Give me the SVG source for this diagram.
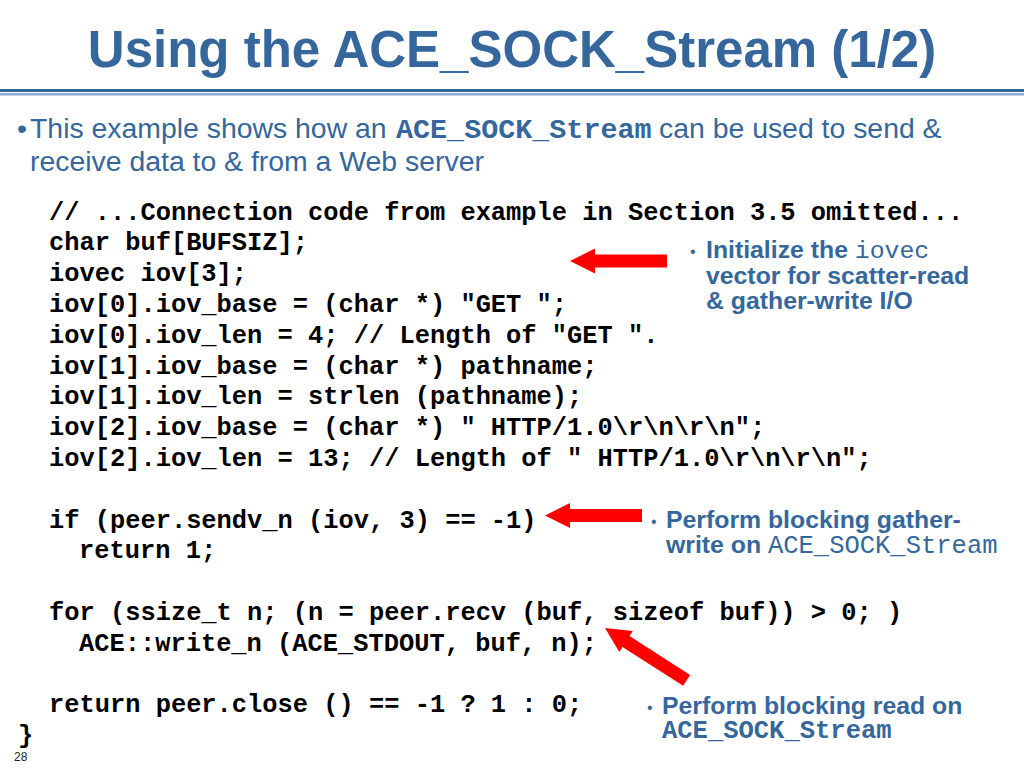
<svg xmlns="http://www.w3.org/2000/svg" width="1024" height="768" viewBox="0 0 1024 768">
<style>
.title{font-family:"Liberation Sans",Arial,sans-serif;font-weight:bold;font-size:51px;fill:#35679C}
.body{font-family:"Liberation Sans",Arial,sans-serif;font-size:28.4px;fill:#35679C}
.bmono{font-family:"Liberation Mono","Courier New",monospace;font-weight:bold}
.mono{font-family:"Liberation Mono","Courier New",monospace;font-weight:normal}
.code{font-family:"Liberation Mono","Courier New",monospace;font-weight:bold;font-size:25.4px;fill:#000}
.note{font-family:"Liberation Sans",Arial,sans-serif;font-weight:bold;font-size:24.8px;fill:#35679C}
.dot{font-family:"Liberation Sans",Arial,sans-serif;font-size:16px;fill:#35679C}
.arrow{fill:#FF0000}
.pg{font-family:"Liberation Sans",Arial,sans-serif;font-size:12px;fill:#222}
</style>
<defs>
<polygon id="arr" points="0,0 25,-12.5 25,-6.5 97,-6.5 97,6.5 25,6.5 25,12.5"/>
</defs>
<rect width="1024" height="768" fill="#fff"/>
<g id="title">
<text class="title" x="512" y="67" text-anchor="middle">Using the ACE_SOCK_Stream (1/2)</text>
<rect x="0" y="89" width="1024" height="3" fill="#36679B"/>
<rect x="0" y="93" width="1024" height="2.5" fill="#8DA9CF"/>
</g>
<g id="intro">
<text class="body" x="17" y="138">•<tspan x="30">This example shows how an</tspan><tspan class="bmono" x="396">ACE_SOCK_Stream</tspan><tspan x="659">can be used to send &amp;</tspan></text>
<text class="body" x="30" y="171">receive data to &amp; from a Web server</text>
</g>
<g id="code" class="code">
<text x="49" y="219.5">// ...Connection code from example in Section 3.5 omitted...</text>
<text x="49" y="250.3">char buf[BUFSIZ];</text>
<text x="49" y="281.1">iovec iov[3];</text>
<text x="49" y="311.9">iov[0].iov_base = (char *) "GET ";</text>
<text x="49" y="342.7">iov[0].iov_len = 4; // Length of "GET ".</text>
<text x="49" y="373.5">iov[1].iov_base = (char *) pathname;</text>
<text x="49" y="404.3">iov[1].iov_len = strlen (pathname);</text>
<text x="49" y="435.1">iov[2].iov_base = (char *) " HTTP/1.0\r\n\r\n";</text>
<text x="49" y="465.9">iov[2].iov_len = 13; // Length of " HTTP/1.0\r\n\r\n";</text>
<text x="49" y="527.5">if (peer.sendv_n (iov, 3) == -1)</text>
<text x="79" y="558.3">return 1;</text>
<text x="49" y="619.9">for (ssize_t n; (n = peer.recv (buf, sizeof buf)) &gt; 0; )</text>
<text x="79" y="650.7">ACE::write_n (ACE_STDOUT, buf, n);</text>
<text x="49" y="712.3">return peer.close () == -1 ? 1 : 0;</text>
<text x="18" y="743">}</text>
</g>
<g id="note-iovec">
<text class="dot" x="690" y="257">•</text>
<text class="note" x="706" y="258">Initialize the <tspan class="mono">iovec</tspan></text>
<text class="note" x="706" y="284">vector for scatter-read</text>
<text class="note" x="706" y="309">&amp; gather-write I/O</text>
</g>
<g id="note-sendv">
<text class="dot" x="651" y="527">•</text>
<text class="note" x="666" y="528">Perform blocking gather-</text>
<text class="note" x="666" y="553">write on <tspan class="mono" font-size="25.5">ACE_SOCK_Stream</tspan></text>
</g>
<g id="note-recv">
<text class="dot" x="647" y="713">•</text>
<text class="note" x="662" y="714">Perform blocking read on</text>
<text class="note" x="662" y="738"><tspan class="bmono" font-size="25.5">ACE_SOCK_Stream</tspan></text>
</g>
<g id="connectors" class="arrow">
<use href="#arr" transform="translate(570,261)"/>
<use href="#arr" transform="translate(545,515.5)"/>
<use href="#arr" transform="translate(605,628) rotate(32.7)"/>
</g>
<text class="pg" x="14" y="761">28</text>
</svg>
